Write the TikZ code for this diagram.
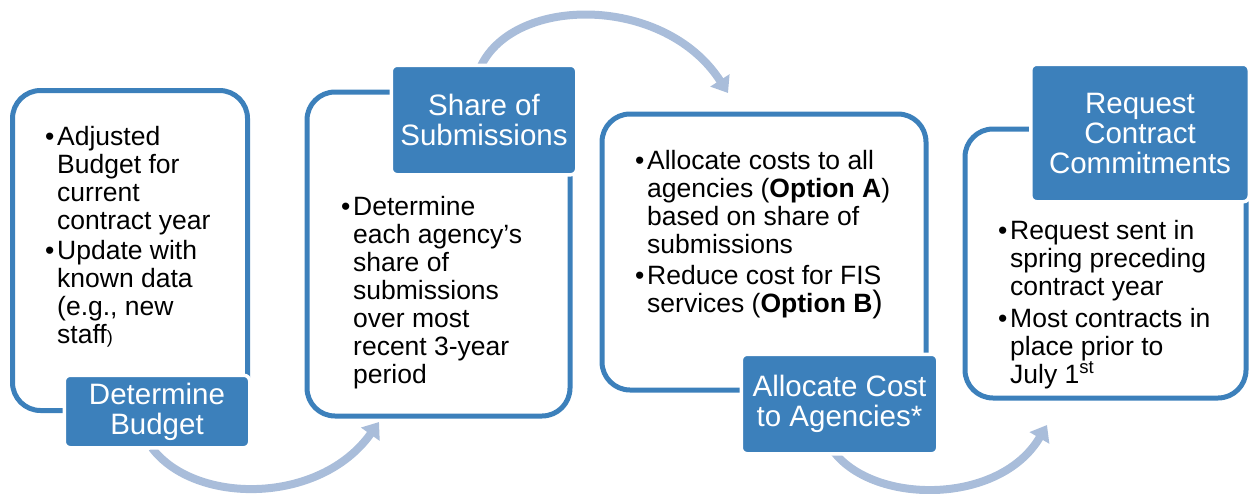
\documentclass[tikz,border=0pt]{standalone}
\usepackage{fontspec}
\setmainfont{Liberation Sans}
\usetikzlibrary{arrows.meta}
\definecolor{mainblue}{RGB}{60,128,187}
\definecolor{arrowblue}{RGB}{169,189,218}
\newlength{\bw}\setlength{\bw}{12pt}
\newcommand{\bul}{\makebox[\bw][l]{\textbullet}}
\newcommand{\ind}{\hspace*{\bw}}
\begin{document}
\begin{tikzpicture}[x=1pt,y=-1pt,
  panel/.style={draw=mainblue,line width=5pt,rounded corners=28pt},
  tag/.style={fill=mainblue,draw=white,line width=3.5pt,rounded corners=6pt,
    text=white,align=center,inner sep=0pt,font=\fontsize{29.5}{30}\selectfont},
  body/.style={align=left,anchor=base west,inner sep=0pt,font=\fontsize{26.5}{28}\selectfont},
  flow/.style={draw=arrowblue,line width=8pt,-{Triangle[length=15pt,width=22pt]}}]
\useasboundingbox (0,0) rectangle (1249,493);

% arrow end points
\coordinate (a1s) at (152,448);
\coordinate (a1e) at (379,422);
\coordinate (a2s) at (481,66);
\coordinate (a2e) at (728,93);
\coordinate (a3s) at (834,452);
\coordinate (a3e) at (1047,425);

% connectors
\draw[flow] (a1s) .. controls (195,505) and (320,505) .. (a1e);
\draw[flow] (a2s) .. controls (515,-5) and (665,-5) .. (a2e);
\draw[flow] (a3s) .. controls (875,505) and (1000,505) .. (a3e);

% panels
\draw[panel] (12.5,90.5) rectangle (247.5,410.5);
\draw[panel] (307,92) rectangle (570,416);
\draw[panel] (602,114) rectangle (926,390);
\draw[panel] (965,129) rectangle (1246,398);

% panel texts (anchored at the baseline of the last line)
\node[body] (b1) at (45,343) {\bul Adjusted\\\ind Budget for\\\ind current\\\ind contract year\\[2pt]
\bul Update with\\\ind known data\\\ind (e.g., new\\\ind staff{\fontsize{18}{18}\selectfont)}};
\node[body] (b2) at (341,383) {\bul Determine\\\ind each agency’s\\\ind share of\\\ind submissions\\\ind over most\\\ind recent 3-year\\\ind period};
\node[body] (b3) at (635,312) {\bul Allocate costs to all\\\ind agencies (\textbf{Option A})\\\ind based on share of\\\ind submissions\\[3pt]
\bul Reduce cost for FIS\\\ind services (\textbf{Option B}{\fontsize{31}{28}\selectfont)}};
\node[body] (b4) at (998,383) {\bul Request sent in\\\ind spring preceding\\\ind contract year\\[4pt]
\bul Most contracts in\\\ind place prior to\\\ind July 1\textsuperscript{st}};

% tags
\node[tag,minimum width=185.5pt,minimum height=72.5pt] (t1) at (157,411.5) {Determine\\Budget};
\node[tag,minimum width=185.5pt,minimum height=109.5pt] (t2) at (484,120) {Share of\\Submissions};
\node[tag,minimum width=196.5pt,minimum height=99.5pt] (t3) at (839.5,404) {Allocate Cost\\to Agencies*};
\node[tag,minimum width=218.5pt,minimum height=137.5pt] (t4) at (1140,133) {Request\\Contract\\Commitments};
\end{tikzpicture}
\end{document}
